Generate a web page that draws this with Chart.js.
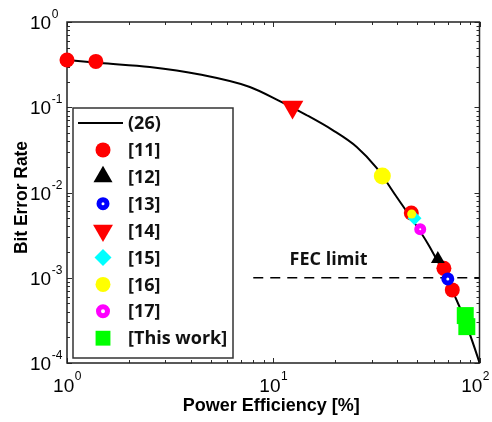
<!DOCTYPE html>
<html>
<head>
<meta charset="utf-8">
<script src="https://cdn.jsdelivr.net/npm/chart.js@4.4.1/dist/chart.umd.min.js"></script>
<style>
  html, body { margin: 0; padding: 0; background: #fff; }
  #wrap { width: 492px; height: 422px; }
</style>
</head>
<body>
<div id="wrap"><canvas id="ber" width="492" height="422"></canvas></div>
<script>
// theory curve (26)
const curveEff = [1, 1.445, 2.52, 4.41, 7.7, 10.75, 14.5, 19.4, 25.4, 31.7, 39.6, 57.3, 80, 97.8, 100];
const curveBer = [0.358, 0.330, 0.297, 0.242, 0.173, 0.118, 0.081, 0.054, 0.0342, 0.0194, 0.0089, 0.00231, 0.000457, 0.000119, 0.0001];

// published results
const ref11Eff = [1.0, 1.38, 46.7, 67.2, 73.8];
const ref11Ber = [0.358, 0.345, 0.00575, 0.00129, 0.00072];
const ref12Eff = [62.8];
const ref12Ber = [0.00166];
const ref13Eff = [70.2];
const ref13Ber = [0.00097];
const ref14Eff = [12.4];
const ref14Ber = [0.101];
const ref15Eff = [48.4];
const ref15Ber = [0.0050];
const ref16Eff = [33.8, 46.9];
const ref16Ber = [0.0156, 0.0056];
const ref17Eff = [51.6];
const ref17Ber = [0.0037];
const thisWorkEff = [85.3, 86.8];
const thisWorkBer = [0.00036, 0.000267];

// FEC threshold
const fecEff = [8, 100];
const fecBer = [0.001, 0.001];

// axes
const xDecades = [1, 10, 100];
const xExponents = ['0', '1', '2'];
const yDecades = [1, 0.1, 0.01, 0.001, 0.0001];
const yExponents = ['0', '-1', '-2', '-3', '-4'];
const minorSteps = [2, 3, 4, 5, 6, 7, 8, 9];

const legendLabels = ['(26)', '[11]', '[12]', '[13]', '[14]', '[15]', '[16]', '[17]', '[This work]'];

function toPoints(xs, ys) {
    return xs.map((v, i) => ({ x: v, y: ys[i] }));
}

function markerSet(label, xs, ys, style) {
    return Object.assign({
        label: label,
        data: toPoints(xs, ys),
        showLine: false,
        clip: false,
        pointBorderWidth: 0,
        pointRotation: 0
    }, style);
}

const datasets = [
    {
        label: legendLabels[0],
        data: toPoints(curveEff, curveBer),
        showLine: true,
        borderColor: '#000',
        borderWidth: 2,
        pointRadius: 0,
        cubicInterpolationMode: 'monotone',
        order: 20
    },
    {
        label: 'FEC',
        data: toPoints(fecEff, fecBer),
        showLine: true,
        borderColor: '#000',
        borderWidth: 1.5,
        borderDash: [10, 7],
        pointRadius: 0,
        order: 19
    },
    markerSet(legendLabels[1], ref11Eff, ref11Ber, {
        pointStyle: 'circle', pointRadius: 7.5, backgroundColor: '#ff0000', borderColor: '#ff0000',
        legendRadius: 7.5, order: 9
    }),
    markerSet(legendLabels[2], ref12Eff, ref12Ber, {
        pointStyle: 'triangle', pointRadius: 8, backgroundColor: '#000', borderColor: '#000',
        legendRadius: 11, order: 8
    }),
    markerSet(legendLabels[3], ref13Eff, ref13Ber, {
        pointStyle: 'circle', pointRadius: 4, pointBorderWidth: 5, backgroundColor: '#fff', borderColor: '#0000ff',
        legendRadius: 4, order: 7
    }),
    markerSet(legendLabels[4], ref14Eff, ref14Ber, {
        pointStyle: 'triangle', pointRotation: 180, pointRadius: 12.5, backgroundColor: '#ff0000', borderColor: '#ff0000',
        legendRadius: 11.5, order: 6
    }),
    markerSet(legendLabels[5], ref15Eff, ref15Ber, {
        pointStyle: 'rectRot', pointRadius: 7, backgroundColor: '#00ffff', borderColor: '#00ffff',
        legendRadius: 8.5, order: 5
    }),
    markerSet(legendLabels[6], ref16Eff, ref16Ber, {
        pointStyle: 'circle', pointRadius: [8.5, 4.5], backgroundColor: '#ffff00', borderColor: '#ffff00',
        legendRadius: 7.5, order: 4
    }),
    markerSet(legendLabels[7], ref17Eff, ref17Ber, {
        pointStyle: 'circle', pointRadius: 3.5, pointBorderWidth: 5, backgroundColor: '#fff', borderColor: '#ff00ff',
        legendRadius: 4.5, order: 3
    }),
    markerSet(legendLabels[8], thisWorkEff, thisWorkBer, {
        pointStyle: 'rect', pointRadius: 12, backgroundColor: '#00ff00', borderColor: '#00ff00',
        legendRadius: 10.5, order: 2
    })
];

function strokeLine(ctx, x1, y1, x2, y2) {
    ctx.beginPath();
    ctx.moveTo(x1, y1);
    ctx.lineTo(x2, y2);
    ctx.stroke();
}

// MATLAB style box with inward ticks
const axesBox = {
    id: 'axesBox',
    beforeDatasetsDraw(chart) {
        const { ctx, chartArea: a, scales } = chart;
        const sx = scales.x, sy = scales.y;
        ctx.save();
        ctx.strokeStyle = '#2b2b2b';
        ctx.lineWidth = 1;
        xDecades.forEach(d => {
            const list = [{ v: d, len: 5 }].concat(minorSteps.map(m => ({ v: d * m, len: 3 })));
            list.forEach(t => {
                if (t.v > 100) return;
                const px = Math.round(sx.getPixelForValue(t.v)) + 0.5;
                strokeLine(ctx, px, a.bottom, px, a.bottom - t.len);
                strokeLine(ctx, px, a.top, px, a.top + t.len);
            });
        });
        yDecades.forEach(d => {
            const list = [{ v: d, len: 5 }].concat(minorSteps.map(m => ({ v: d * m, len: 3 })));
            list.forEach(t => {
                if (t.v > 1) return;
                const py = Math.round(sy.getPixelForValue(t.v)) + 0.5;
                strokeLine(ctx, a.left, py, a.left + t.len, py);
                strokeLine(ctx, a.right, py, a.right - t.len, py);
            });
        });
        ctx.lineWidth = 1.5;
        ctx.strokeStyle = '#222';
        ctx.strokeRect(a.left, a.top, a.right - a.left, a.bottom - a.top);
        ctx.restore();
    },
    afterDraw(chart) {
        const { ctx, chartArea: a, scales } = chart;
        const sx = scales.x, sy = scales.y;
        const baseFont = '19px "Liberation Sans", Arial, sans-serif';
        const expFont = '12px "Liberation Sans", Arial, sans-serif';
        ctx.save();
        ctx.fillStyle = '#000';
        ctx.textBaseline = 'alphabetic';
        ctx.textAlign = 'left';

        // x tick labels
        xDecades.forEach((d, i) => {
            const px = sx.getPixelForValue(d);
            ctx.font = baseFont;
            const wBase = ctx.measureText('10').width;
            ctx.font = expFont;
            const wExp = ctx.measureText(xExponents[i]).width;
            const start = Math.min(px - (wBase + wExp) / 2, chart.width - 3 - wBase - wExp);
            ctx.font = baseFont;
            ctx.fillText('10', start, a.bottom + 29);
            ctx.font = expFont;
            ctx.fillText(xExponents[i], start + wBase + 0.5, a.bottom + 17);
        });

        // y tick labels
        yDecades.forEach((d, i) => {
            const py = sy.getPixelForValue(d);
            ctx.font = baseFont;
            const wBase = ctx.measureText('10').width;
            ctx.fillText('10', 30, py + 7);
            ctx.font = expFont;
            ctx.fillText(yExponents[i], 30 + wBase + 0.5, py - 4);
        });

        // axis titles
        ctx.textAlign = 'center';
        ctx.font = 'bold 18px "Liberation Sans", Arial, sans-serif';
        ctx.fillText('Power Efficiency [%]', (a.left + a.right) / 2 - 2, 411);

        ctx.save();
        ctx.translate(27, (a.top + a.bottom) / 2 + 5);
        ctx.rotate(-Math.PI / 2);
        ctx.font = 'bold 18px "Liberation Sans", Arial, sans-serif';
        const yTitle = 'Bit Error Rate';
        const squeeze = 113 / ctx.measureText(yTitle).width;
        ctx.scale(squeeze, 1);
        ctx.fillText(yTitle, 0, 0);
        ctx.restore();

        // FEC label
        ctx.textAlign = 'left';
        ctx.textBaseline = 'middle';
        ctx.fillStyle = '#111';
        ctx.font = 'bold 18px "Open Sans", sans-serif';
        ctx.fillText('FEC limit', sx.getPixelForValue(12.0), sy.getPixelForValue(0.001) - 18);

        // legend box
        const bx = a.left + 6, by = a.top + 86, bw = 160, bh = 250;
        ctx.fillStyle = '#fff';
        ctx.fillRect(bx, by, bw, bh);
        ctx.strokeStyle = '#333';
        ctx.lineWidth = 1.5;
        ctx.strokeRect(bx, by, bw, bh);

        const rowStep = 26.9;
        const markX = bx + 30, textX = bx + 55;
        chart.data.datasets.filter(ds => ds.label !== 'FEC').forEach((ds, i) => {
            const ry = by + 15 + i * rowStep;
            if (ds.showLine) {
                ctx.strokeStyle = ds.borderColor;
                ctx.lineWidth = 2;
                strokeLine(ctx, bx + 5, ry, bx + 50, ry);
            } else {
                ctx.fillStyle = ds.backgroundColor;
                ctx.strokeStyle = ds.borderColor;
                ctx.lineWidth = ds.pointBorderWidth;
                Chart.helpers.drawPoint(ctx, {
                    pointStyle: ds.pointStyle,
                    rotation: ds.pointRotation,
                    radius: ds.legendRadius,
                    borderWidth: ds.pointBorderWidth
                }, markX, ry);
            }
            ctx.fillStyle = '#111';
            ctx.font = 'bold 18px "Open Sans", sans-serif';
            ctx.textBaseline = 'middle';
            ctx.fillText(ds.label, textX, ry + 1);
        });
        ctx.restore();
    }
};

const ctx = document.getElementById('ber').getContext('2d');
new Chart(ctx, {
    type: 'scatter',
    data: { datasets: datasets },
    options: {
        responsive: false,
        animation: false,
        events: [],
        layout: { padding: { top: 22, right: 12, left: 0, bottom: 0 } },
        plugins: {
            legend: { display: false },
            tooltip: { enabled: false }
        },
        scales: {
            x: {
                type: 'logarithmic',
                min: 1,
                max: 100,
                grid: { display: false },
                border: { display: false },
                ticks: { display: false },
                afterFit: function(s) { s.height = 59; }
            },
            y: {
                type: 'logarithmic',
                min: 0.0001,
                max: 1,
                grid: { display: false },
                border: { display: false },
                ticks: { display: false },
                afterFit: function(s) { s.width = 67; }
            }
        }
    },
    plugins: [axesBox]
});
</script>
</body>
</html>
